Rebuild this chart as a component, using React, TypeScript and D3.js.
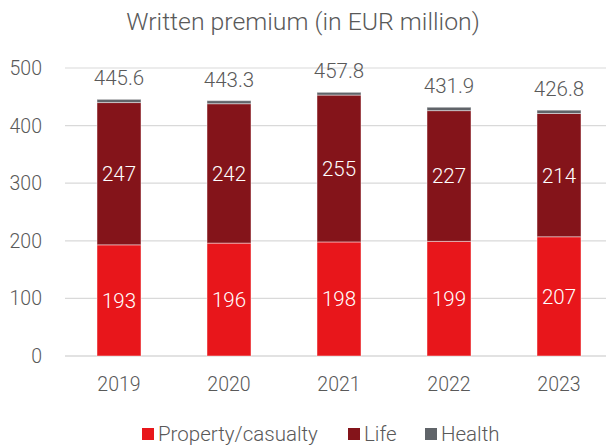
import * as React from "react";
import * as d3 from "d3";

const YEARS = ["2019", "2020", "2021", "2022", "2023"];
const PROPERTY = [193, 196, 198, 199, 207];
const LIFE = [247, 242, 255, 227, 214];
const HEALTH = [5.6, 5.3, 4.8, 5.9, 5.8];
const TOTALS = ["445.6", "443.3", "457.8", "431.9", "426.8"];
const Y_TICKS = [0, 100, 200, 300, 400, 500];

const SERIES = [
  { name: "Property/casualty", values: PROPERTY, color: "#e8161b", label: true },
  { name: "Life", values: LIFE, color: "#84141a", label: true },
  { name: "Health", values: HEALTH, color: "#606469", label: false },
];

const W = 606;
const H = 445;
const FONT = "Roboto, 'Noto Sans', sans-serif";

export default function App() {
  const ref = React.useRef<SVGSVGElement | null>(null);

  React.useEffect(() => {
    if (!ref.current) return;
    const svg = d3.select(ref.current);
    svg.selectAll("*").remove();

    const x = d3.scaleBand<string>().domain(YEARS).range([64, 614]).paddingInner(0.6).paddingOuter(0.3);
    const y = d3.scaleLinear().domain([0, 500]).range([356, 68]);

    // title
    svg.append("text")
      .attr("x", W / 2)
      .attr("y", 30)
      .attr("text-anchor", "middle")
      .attr("font-size", 24.8)
      .attr("font-weight", 300)
      .attr("fill", "#595959")
      .text("Written premium (in EUR million)");

    // grid + y labels
    Y_TICKS.forEach((t) => {
      svg.append("line")
        .attr("x1", 65).attr("x2", W)
        .attr("y1", y(t)).attr("y2", y(t))
        .attr("stroke", "#d9d9d9")
        .attr("stroke-width", t === 0 ? 1.5 : 1.2);
      svg.append("text")
        .attr("x", 42)
        .attr("y", y(t))
        .attr("dy", "0.36em")
        .attr("text-anchor", "end")
        .attr("font-size", 19.5)
        .attr("font-weight", 300)
        .attr("fill", "#595959")
        .text(t);
    });

    const stacked = d3.stack<number>()
      .keys(SERIES.map((_, i) => String(i)))
      .value((i, k) => SERIES[+k].values[i])(YEARS.map((_, i) => i));

    stacked.forEach((layer, si) => {
      const s = SERIES[si];
      layer.forEach((seg, i) => {
        const x0 = x(YEARS[i])!;
        svg.append("rect")
          .attr("x", x0)
          .attr("width", x.bandwidth())
          .attr("y", y(seg[1]))
          .attr("height", y(seg[0]) - y(seg[1]))
          .attr("fill", s.color)
          .attr("stroke", "#ffffff")
          .attr("stroke-opacity", 0.45)
          .attr("stroke-width", 1);
        if (s.label) {
          svg.append("text")
            .attr("x", x0 + x.bandwidth() / 2)
            .attr("y", (y(seg[0]) + y(seg[1])) / 2)
            .attr("dy", "0.36em")
            .attr("text-anchor", "middle")
            .attr("font-size", 20.5)
            .attr("font-weight", 300)
            .attr("fill", "#ffffff")
            .text(s.values[i]);
        }
      });
    });

    // totals + year labels
    const top = stacked[stacked.length - 1];
    YEARS.forEach((yr, i) => {
      svg.append("text")
        .attr("x", x(yr)! + x.bandwidth() / 2)
        .attr("y", y(top[i][1]) - 14)
        .attr("text-anchor", "middle")
        .attr("font-size", 20.5)
        .attr("font-weight", 300)
        .attr("fill", "#595959")
        .text(TOTALS[i]);
      svg.append("text")
        .attr("x", x(yr)! + x.bandwidth() / 2)
        .attr("y", 391)
        .attr("text-anchor", "middle")
        .attr("font-size", 19.5)
        .attr("font-weight", 300)
        .attr("fill", "#595959")
        .text(yr);
    });

    // legend
    const legendX = [142, 348, 425];
    SERIES.forEach((s, i) => {
      svg.append("rect")
        .attr("x", legendX[i]).attr("y", 428)
        .attr("width", 12).attr("height", 12)
        .attr("fill", s.color);
      svg.append("text")
        .attr("x", legendX[i] + 16)
        .attr("y", 441)
        .attr("font-size", 20.5)
        .attr("font-weight", 300)
        .attr("fill", "#595959")
        .text(s.name);
    });
  }, []);

  return (
    <svg
      ref={ref}
      width={W}
      height={H}
      style={{ position: "absolute", left: 0, top: 0, background: "#fff", fontFamily: FONT }}
    />
  );
}
